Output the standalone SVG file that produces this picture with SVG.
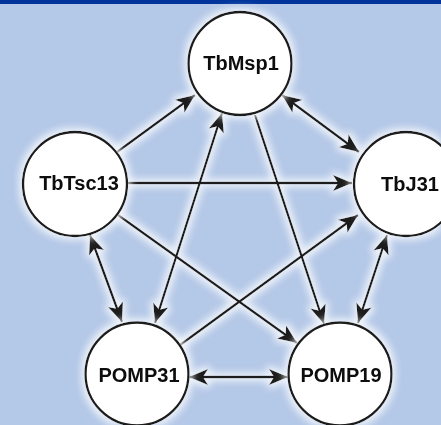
<svg xmlns="http://www.w3.org/2000/svg" width="441" height="425" viewBox="0 0 441 425">
<style>
.edge{fill:none;stroke:#1a1a1a;stroke-width:2.3}
.node circle{fill:#fff;stroke:#1a1a1a;stroke-width:2.3}
.node text{font-family:"Liberation Sans",Arial,sans-serif;font-weight:bold;font-size:20px;fill:#0d0d0d;text-anchor:middle}
.uni{marker-end:url(#ah)}
.bi{marker-start:url(#ah);marker-end:url(#ah)}
</style>
<defs>
<marker id="ah" markerUnits="userSpaceOnUse" markerWidth="20" markerHeight="16" refX="19" refY="8" orient="auto-start-reverse" viewBox="0 0 20 16">
<path d="M0,0 L19,8 L0,16 L5,8 z" fill="#1a1a1a"/>
</marker>
<filter id="glow" filterUnits="userSpaceOnUse" x="0" y="0" width="441" height="425">
<feMorphology in="SourceAlpha" operator="dilate" radius="3" result="d"/>
<feGaussianBlur in="d" stdDeviation="3.5" result="b"/>
<feFlood flood-color="#ffffff" flood-opacity="0.75"/>
<feComposite in2="b" operator="in" result="g"/>
<feMerge><feMergeNode in="g"/><feMergeNode in="SourceGraphic"/></feMerge>
</filter>
</defs>
<rect x="0" y="0" width="441" height="425" fill="#b4c8e7"/>
<rect x="0" y="0" width="441" height="4" fill="#00349b"/>
<g id="connectors" filter="url(#glow)">
<line class="edge uni" x1="117" y1="152" x2="195" y2="95"/>
<line class="edge bi" x1="282" y1="95" x2="359" y2="152"/>
<line class="edge bi" x1="387" y1="235" x2="358" y2="323"/>
<line class="edge bi" x1="90" y1="235" x2="122" y2="322"/>
<line class="edge bi" x1="189" y1="377" x2="288" y2="377"/>
<line class="edge bi" x1="222" y1="113" x2="155" y2="323"/>
<line class="edge uni" x1="255" y1="115" x2="324" y2="324"/>
<line class="edge uni" x1="127" y1="183" x2="352" y2="183"/>
<line class="edge uni" x1="118" y1="215" x2="297" y2="343"/>
<line class="edge uni" x1="180" y1="345" x2="358" y2="215"/>
</g>
<g id="TbMsp1" class="node" filter="url(#glow)">
<circle cx="240" cy="63.5" r="51.5"/>
<text x="241" y="70">TbMsp1</text>
</g>
<g id="TbTsc13" class="node" filter="url(#glow)">
<circle cx="75" cy="184" r="52"/>
<text x="79" y="190">TbTsc13</text>
</g>
<g id="TbJ31" class="node" filter="url(#glow)">
<circle cx="406" cy="184" r="52"/>
<text x="410" y="191">TbJ31</text>
</g>
<g id="POMP31" class="node" filter="url(#glow)">
<circle cx="137" cy="374" r="51.5"/>
<text x="139" y="382">POMP31</text>
</g>
<g id="POMP19" class="node" filter="url(#glow)">
<circle cx="340" cy="374" r="51.5"/>
<text x="341" y="382">POMP19</text>
</g>
</svg>
